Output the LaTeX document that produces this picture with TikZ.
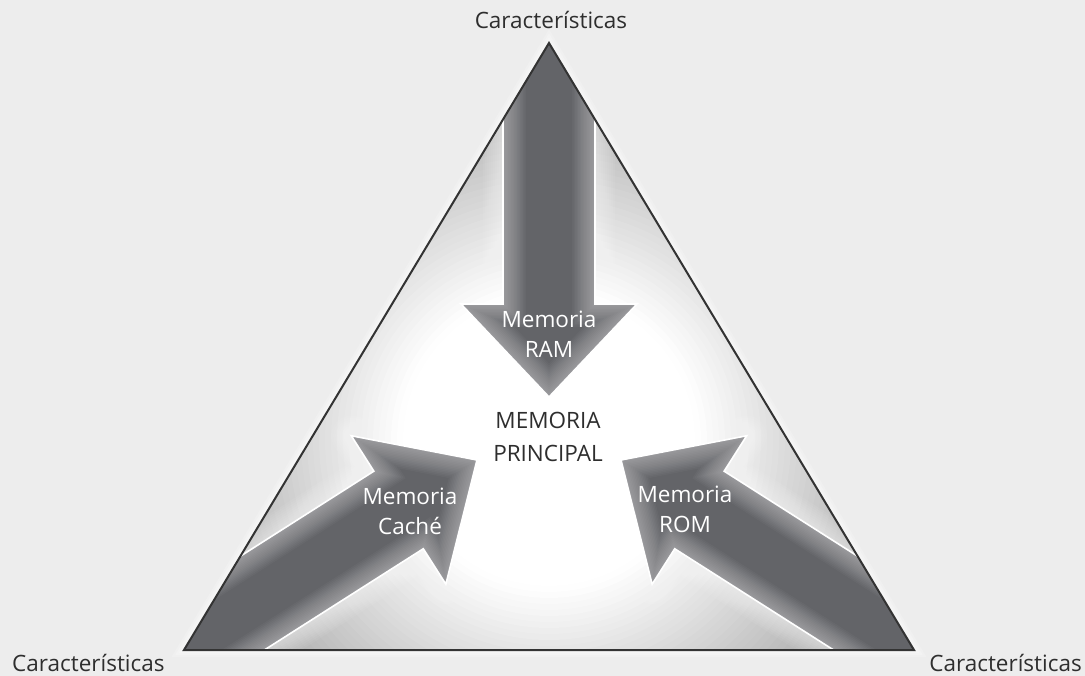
\documentclass[tikz,border=0pt]{standalone}
\usepackage{fontspec}
\setmainfont{Open Sans}
\definecolor{bg}{HTML}{EDEDED}
\definecolor{edge}{HTML}{333333}
\definecolor{arrowgray}{HTML}{636468}
\definecolor{labeltext}{HTML}{2E2E2E}
\definecolor{rimgray}{HTML}{8A8A8A}
\tikzset{
  arrowshape/.style={insert path={(-493,46) -- (-93,46) -- (-93,88) -- (0,0)
      -- (-93,-88) -- (-93,-46) -- (-493,-46) -- cycle}},
  caption/.style={font=\fontsize{22.5}{30}\selectfont, text=labeltext, inner sep=0pt},
  inlabel/.style={font=\fontsize{22.5}{30}\selectfont, text=white, align=center, inner sep=0pt},
}
% Block arrow with a soft white halo, an inner glow and a thin white rim
\newcommand\glowarrow[1]{%
  \begin{scope}[#1]
    \foreach \w in {40,36,...,4}{%
      \draw[white, opacity=0.06, line width=\w pt, line join=round, arrowshape];}
    \begin{scope}
      \clip[arrowshape];
      \fill[arrowgray, arrowshape];
      \foreach \w in {46,43,...,1}{%
        \draw[white, opacity=0.03, line width=\w pt, line join=miter, arrowshape];}
    \end{scope}
    \draw[white, line width=1.6pt, line join=miter, arrowshape];
  \end{scope}}
\begin{document}
\begin{tikzpicture}[x=1pt, y=-1pt]
  \fill[bg] (0,0) rectangle (1085,676);
  \useasboundingbox (0,0) rectangle (1085,676);
  \coordinate (apex) at (549,43);
  \coordinate (left) at (184,650);
  \coordinate (right) at (914,650);
  \coordinate (mid) at (549,440);
  % faint halo around the outline
  \foreach \w in {14,10,6}{%
    \draw[white, opacity=0.2, line width=\w pt, line join=miter] (apex) -- (right) -- (left) -- cycle;}
  \begin{scope}
    \clip (apex) -- (right) -- (left) -- cycle;
    % radial fill: grey at the corners, white in the middle
    \foreach \r in {440,434,...,140}{%
      \pgfmathsetmacro\p{min(100,(440-\r)/2.9)}%
      \fill[white!\p!rimgray] (mid) circle (\r);}
    \glowarrow{shift={(549,397)}, rotate=-90}
    \glowarrow{shift={(477,460)}, rotate=32.5}
    \glowarrow{shift={(621,460)}, rotate=147.5}
  \end{scope}
  \draw[edge, line width=2pt, line join=miter] (apex) -- (right) -- (left) -- cycle;
  % captions
  \node[caption, anchor=base] (ctop) at (551,29) {Características};
  \node[caption, anchor=base west] (cleft) at (12,671) {Características};
  \node[caption, anchor=base east] (cright) at (1082,671) {Características};
  \node[caption, align=center] (center) at (548,437) {MEMORIA\\[3pt]PRINCIPAL};
  \node[inlabel] (ram) at (549,334) {Memoria\\RAM};
  \node[inlabel] (cache) at (410,511) {Memoria\\Caché};
  \node[inlabel] (rom) at (685,509) {Memoria\\ROM};
\end{tikzpicture}
\end{document}
